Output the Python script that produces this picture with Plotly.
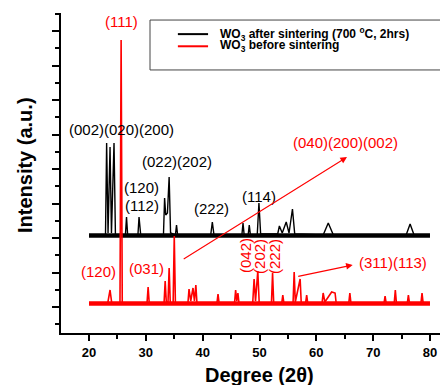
import plotly.graph_objects as go

# ---------------- data ----------------
# WO3 after sintering (black), vertices (2theta, intensity a.u.)
black_deg = [20.0,
             22.9, 23.1, 23.35, 23.7, 23.95, 24.4, 24.65,
             26.4, 26.6, 26.8,
             28.6, 28.8, 29.1,
             33.1, 33.3, 33.5, 33.8, 34.1, 34.35,
             35.2, 35.4, 35.6,
             41.4, 41.7, 42.0,
             46.9, 47.1, 47.3,
             48.0, 48.2, 48.4,
             49.6, 49.9, 50.2,
             53.2, 53.5, 54.0,
             54.7, 55.2, 55.8, 56.2,
             61.2, 62.1, 63.0,
             75.8, 76.5, 77.2,
             80.0]
black_int = [975,
             980, 1900, 1000, 1860, 1000, 1900, 980,
             975, 1160, 980,
             975, 1160, 980,
             980, 1350, 1180, 1200, 1560, 1000,
             980, 1080, 975,
             975, 1110, 975,
             980, 1100, 980,
             980, 1080, 980,
             980, 1300, 990,
             990, 1070, 1000,
             1110, 1000, 1240, 990,
             980, 1100, 980,
             980, 1090, 980,
             975]
black_base = 975

# WO3 before sintering (red)
red_deg = [20.0,
           23.3, 23.7, 24.0,
           25.45, 25.65, 25.85,
           30.2, 30.4, 30.6,
           33.2, 33.4, 33.6, 33.9, 34.1, 34.3,
           34.8, 35.0, 35.2,
           37.4, 37.6, 37.9, 38.3, 38.55, 38.8, 39.0,
           42.5, 42.7, 42.9,
           45.6, 45.8, 46.0, 46.2, 46.4,
           48.8, 49.05, 49.3, 49.7, 49.95,
           52.1, 52.3, 52.5,
           53.9, 54.1, 54.3,
           55.9, 56.1, 56.3, 57.15, 57.35,
           58.1, 58.3, 58.5,
           61.0, 61.2, 61.5, 62.7, 63.3, 63.5,
           65.7, 65.9, 66.1,
           71.9, 72.1, 72.3,
           73.7, 73.9, 74.1,
           76.0, 76.2, 76.4,
           78.4, 78.6, 78.8,
           80.0]
red_int = [295,
           300, 430, 300,
           295, 2930, 295,
           295, 460, 295,
           295, 520, 310, 310, 650, 295,
           295, 970, 295,
           295, 440, 320, 450, 320, 480, 295,
           295, 390, 295,
           295, 430, 320, 400, 295,
           295, 540, 320, 620, 295,
           295, 600, 295,
           295, 380, 295,
           295, 610, 310, 540, 295,
           295, 380, 295,
           295, 400, 310, 410, 400, 295,
           295, 400, 295,
           295, 370, 295,
           295, 430, 295,
           295, 380, 295,
           295, 400, 295,
           295]
red_base = 295

scan_range = [20.0, 80.0]

black_labels = ["(002)(020)(200)", "(022)(202)", "(120)", "(112)", "(222)", "(114)"]
black_label_x = [25.75, 35.4, 29.3, 29.3, 41.6, 49.9]
black_label_y = [2040, 1713, 1460, 1280, 1250, 1363]

red_labels = ["(111)", "(120)", "(031)", "(040)(200)(002)", "(311)(113)"]
red_label_x = [25.7, 21.75, 30.2, 65.05, 73.5]
red_label_y = [3115, 620, 650, 1910, 703]

red_rot_labels = ["(042)", "(202)", "(222)"]
red_rot_x = [47.45, 49.9, 52.55]
red_rot_y = [770, 770, 770]

arrow_tail_x = [36.4, 56.55]
arrow_tail_y = [730, 563]
arrow_head_x = [65.4, 66.4]
arrow_head_y = [1760, 680]

legend_names = ["WO<sub>3</sub> after sintering (700 <sup>o</sup>C, 2hrs)",
                "WO<sub>3</sub> before sintering"]

BLACK = "#000000"
RED = "#ff0000"
FONT = "Arial, Liberation Sans, sans-serif"

fig = go.Figure()

# noise bands
fig.add_trace(go.Scatter(x=scan_range, y=[black_base, black_base], mode="lines",
                         line=dict(color=BLACK, width=4.5), showlegend=False, hoverinfo="skip"))
fig.add_trace(go.Scatter(x=scan_range, y=[red_base, red_base], mode="lines",
                         line=dict(color=RED, width=4.5), showlegend=False, hoverinfo="skip"))
# patterns
fig.add_trace(go.Scatter(x=black_deg, y=black_int, mode="lines", name=legend_names[0],
                         line=dict(color=BLACK, width=1.4), showlegend=False))
fig.add_trace(go.Scatter(x=red_deg, y=red_int, mode="lines", name=legend_names[1],
                         line=dict(color=RED, width=1.6), showlegend=False))

ann = []
for t, x, y in zip(black_labels, black_label_x, black_label_y):
    ann.append(dict(x=x, y=y, text=t, showarrow=False, xref="x", yref="y",
                    font=dict(family=FONT, size=15, color=BLACK)))
for t, x, y in zip(red_labels, red_label_x, red_label_y):
    ann.append(dict(x=x, y=y, text=t, showarrow=False, xref="x", yref="y",
                    font=dict(family=FONT, size=15, color=RED)))
for t, x, y in zip(red_rot_labels, red_rot_x, red_rot_y):
    ann.append(dict(x=x, y=y, text=t, showarrow=False, xref="x", yref="y", textangle=-90,
                    font=dict(family=FONT, size=15, color=RED)))
for tx, ty, hx, hy in zip(arrow_tail_x, arrow_tail_y, arrow_head_x, arrow_head_y):
    ann.append(dict(x=hx, y=hy, ax=tx, ay=ty, xref="x", yref="y", axref="x", ayref="y",
                    text="", showarrow=True, arrowhead=2, arrowsize=1.2, arrowwidth=1.1,
                    arrowcolor=RED))

# axis titles
ann.append(dict(x=0.514, y=-0.131, xref="paper", yref="paper", text="<b>Degree (2θ)</b>",
                showarrow=False, xanchor="center", yanchor="middle",
                font=dict(family=FONT, size=20, color=BLACK)))
ann.append(dict(x=-0.093, y=0.525, xref="paper", yref="paper", text="<b>Intensity (a.u.)</b>",
                showarrow=False, textangle=-90, xanchor="center", yanchor="middle",
                font=dict(family=FONT, size=20, color=BLACK)))

# legend (drawn by hand)
leg_y = [0.934, 0.896]
leg_col = [BLACK, RED]
shapes = [dict(type="rect", xref="paper", yref="paper", x0=0.230, x1=0.995, y0=0.822, y1=0.978,
               line=dict(color="#444444", width=1), fillcolor="white", layer="above")]
for yy, cc, nm in zip(leg_y, leg_col, legend_names):
    shapes.append(dict(type="line", xref="paper", yref="paper", x0=0.302, x1=0.380, y0=yy, y1=yy,
                       line=dict(color=cc, width=2), layer="above"))
    ann.append(dict(x=0.406, y=yy, xref="paper", yref="paper", text="<b>" + nm + "</b>",
                    showarrow=False, xanchor="left", yanchor="middle",
                    font=dict(family=FONT, size=12, color=BLACK)))

# the page body adds an 8 px offset, so the figure is 8 px smaller and margins shifted
fig.update_layout(
    width=440, height=377,
    margin=dict(l=53, r=0, t=5, b=52),
    paper_bgcolor="white", plot_bgcolor="white",
    showlegend=False,
    annotations=ann, shapes=shapes,
    xaxis=dict(range=[15.07, 83.17], showline=True, linewidth=2, linecolor=BLACK,
               ticks="outside", ticklen=6, tickwidth=1.5, tickcolor=BLACK,
               tick0=0, dtick=10, showgrid=False, zeroline=False,
               tickfont=dict(family=FONT, size=13, color=BLACK, weight="bold"),
               minor=dict(ticks="outside", ticklen=4, tickwidth=1.5, tickcolor=BLACK, dtick=5, tick0=0)),
    yaxis=dict(range=[0, 3200], showline=True, linewidth=2, linecolor=BLACK,
               ticks="outside", ticklen=7, tickwidth=1.5, tickcolor=BLACK,
               tick0=260, dtick=345, showticklabels=False, showgrid=False, zeroline=False,
               minor=dict(ticks="outside", ticklen=4, tickwidth=1.5, tickcolor=BLACK,
                          tick0=87.5, dtick=172.5)),
)

fig.write_html("out.html")
